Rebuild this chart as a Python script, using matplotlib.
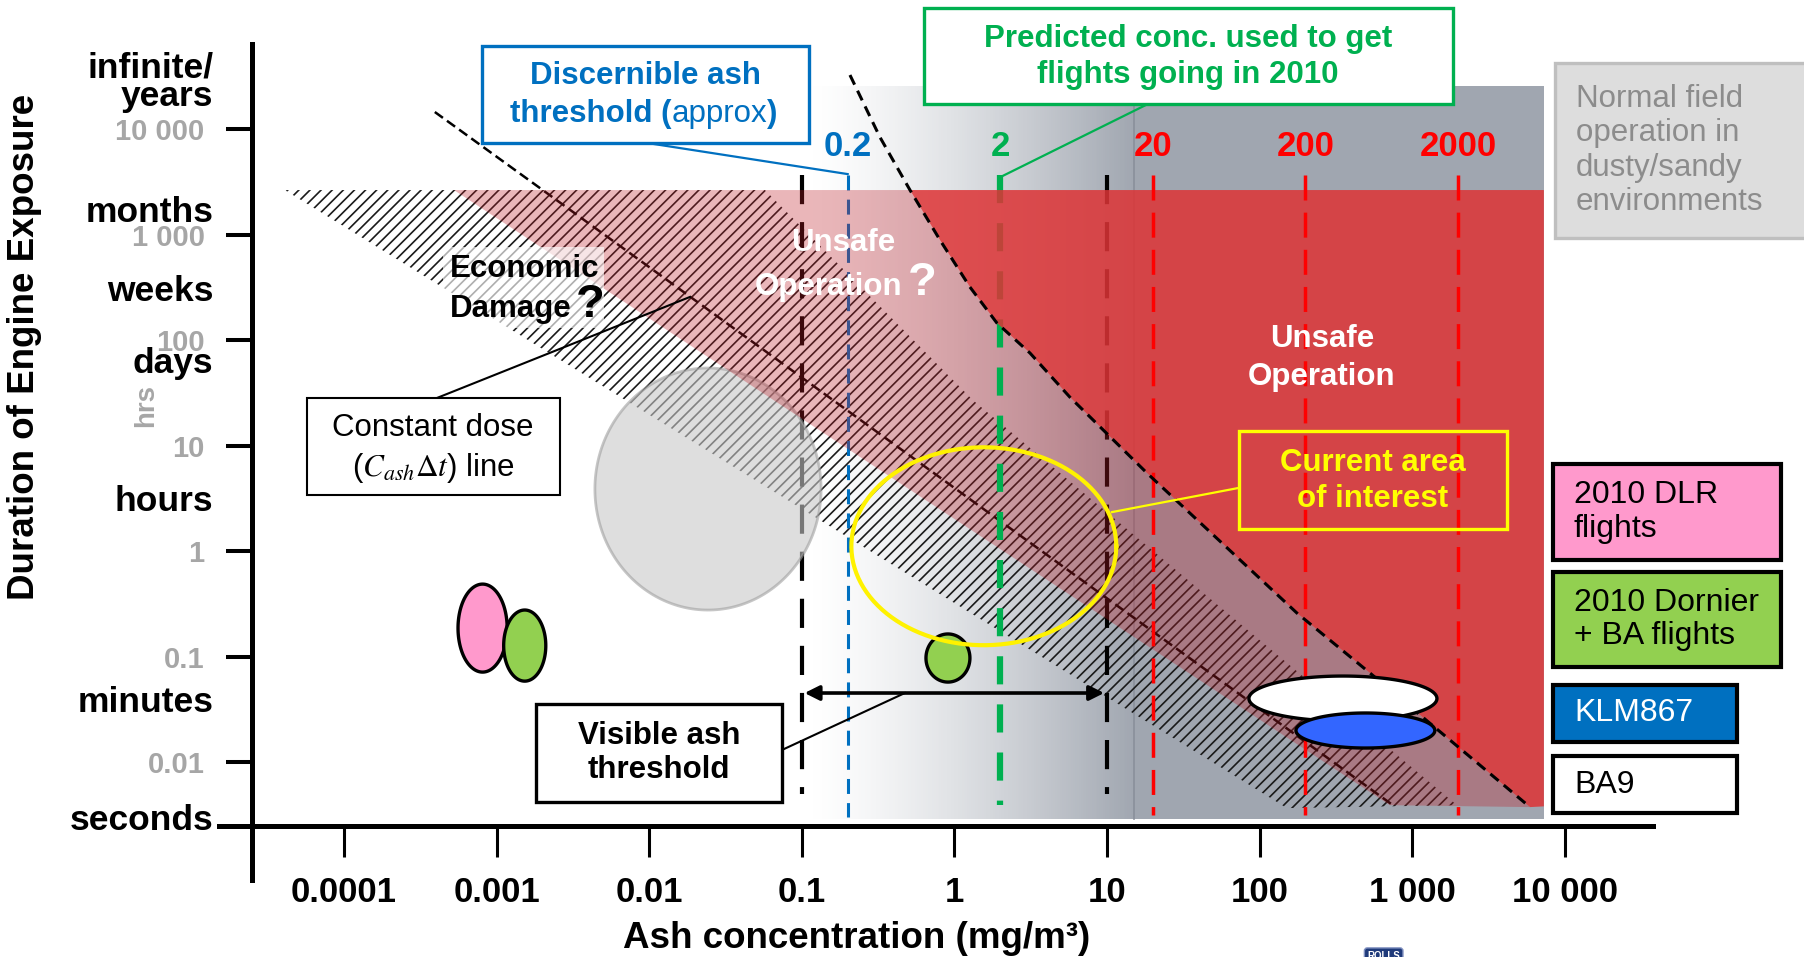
import numpy as np
import matplotlib.pyplot as plt
from matplotlib.patches import Polygon, Rectangle
from matplotlib.colors import LinearSegmentedColormap
from matplotlib.ticker import NullLocator

plt.rcParams['font.family'] = ['Liberation Sans', 'DejaVu Sans']
plt.rcParams['mathtext.fontset'] = 'stix'
plt.rcParams['hatch.linewidth'] = 1.2

# axes: ash concentration (mg/m3) vs exposure (hrs)
conc_ticks = [1e-4, 1e-3, 1e-2, 1e-1, 1, 10, 100, 1e3, 1e4]
conc_labels = ['0.0001', '0.001', '0.01', '0.1', '1', '10', '100', '1 000', '10 000']
hrs_ticks = [1e-2, 1e-1, 1, 10, 100, 1e3, 1e4]
hrs_labels = ['0.01', '0.1', '1', '10', '100', '1 000', '10 000']
time_words = ['infinite/', 'years', 'months', 'weeks', 'days', 'hours', 'minutes', 'seconds']
time_word_hrs = [31100, 16500, 1313, 234, 48.6, 2.39, 0.0298, 0.00226]

# gray background (visible ash), gradient up to 15 mg/m3
gray_conc = [0.1, 15, 7300]
gray_hrs = [0.0029, 25600]

# dashed limit curve = left edge of the red "unsafe" area
limit_conc = [0.207, 0.325, 0.512, 0.805, 1.265, 1.90, 3.13, 5.71, 18.3, 176, 529, 5920]
limit_hrs = [32500, 8400, 2640, 887, 318, 145, 75.3, 28.8, 5.48, 0.258, 0.0698, 0.00374]
red_top, red_bottom, red_right = 2640, 0.0038, 7300

# pink band lower edge
pink_low_conc = [5.26e-4, 715]
pink_low_hrs = [2640, 0.0039]

# hatched "economic damage" band
hatch_conc = [4.1e-5, 0.0574, 1.32, 1967, 151]
hatch_hrs = [2640, 2640, 27.0, 0.0039, 0.00366]

# constant dose line
dose_conc = [3.94e-4, 748]
dose_hrs = [14500, 0.0039]

# vertical threshold lines
thresh_conc = [0.1, 0.2, 2, 10, 20, 200, 2000]
thresh_bottom = [0.005, 0.003, 0.0039, 0.005, 0.00315, 0.00315, 0.00315]
thresh_top = 3660
thresh_labels = ['', '0.2', '2', '', '20', '200', '2000']

# flight data ellipses: centre (conc, hrs), half widths in decades
ell_conc = [0.0243, 8.1e-4, 1.53e-3, 0.908, 352, 494, 1.56]
ell_hrs = [3.87, 0.186, 0.127, 0.0968, 0.04, 0.0199, 1.11]
ell_wx = [0.741, 0.161, 0.138, 0.144, 0.616, 0.455, 0.868]
ell_wy = [1.147, 0.417, 0.337, 0.228, 0.213, 0.166, 0.938]

legend_labels = ['2010 DLR\nflights', '2010 Dornier\n+ BA flights', 'KLM867', 'BA9']
legend_fc = ['#FF99CC', '#92D050', '#0070C0', 'white']
legend_tc = ['black', 'black', 'white', 'black']
legend_x1 = [261000, 261000, 134000, 134000]
legend_y0 = [0.822, 0.0794, 0.0155, 0.00329]
legend_y1 = [6.68, 0.632, 0.0537, 0.0114]

fig = plt.figure(figsize=(18.04, 9.57), dpi=100)
ax = fig.add_axes([0, 0, 1, 1])
ax.set_xscale('log')
ax.set_yscale('log')
ax.set_xlim(10**-6.254, 10**5.568)
ax.set_ylim(10**-3.848, 10**5.223)

for s in ['top', 'right']:
    ax.spines[s].set_visible(False)
ax.spines['left'].set_position(('data', 10**-4.603))
ax.spines['left'].set_bounds(10**-3.119, 10**4.806)
ax.spines['bottom'].set_position(('data', 10**-2.607))
ax.spines['bottom'].set_bounds(10**-4.819, 10**4.578)
for s in ['left', 'bottom']:
    ax.spines[s].set_linewidth(3.6)

ax.set_xticks(conc_ticks)
ax.set_xticklabels(conc_labels, fontweight='bold')
ax.set_yticks(hrs_ticks)
ax.set_yticklabels(hrs_labels, fontweight='bold')
ax.xaxis.set_minor_locator(NullLocator())
ax.yaxis.set_minor_locator(NullLocator())
ax.tick_params(axis='x', direction='out', length=22, width=2.2, pad=14, labelsize=25)
ax.tick_params(axis='y', direction='out', length=19, width=2.9, pad=15, labelsize=21,
               labelcolor='#A6A6A6')

ax.set_xlabel('Ash concentration (mg/m³)', fontsize=26.5, fontweight='bold', va='center')
ax.xaxis.set_label_coords(857 / 1804, 1 - 938 / 957)
ax.set_ylabel('Duration of Engine Exposure', fontsize=26.5, fontweight='bold', va='center')
ax.yaxis.set_label_coords(25 / 1804, 1 - 347 / 957)

for w, h in zip(time_words, time_word_hrs):
    ax.text(1.39e-5, h, w, ha='right', va='baseline', fontsize=25.5, fontweight='bold')
ax.text(5.03e-6, 24.2, 'hrs', rotation=90, ha='center', va='center', fontsize=20,
        fontweight='bold', color='#A6A6A6')

# gray gradient background
gx = np.logspace(np.log10(gray_conc[0]), np.log10(gray_conc[2]), 400)
frac = np.clip(np.log10(gx / gray_conc[0]) / np.log10(gray_conc[1] / gray_conc[0]), 0, 1) ** 1.4
cmap = LinearSegmentedColormap.from_list('ash', ['#ffffff', '#a0a6b0'])
ax.pcolormesh(gx, gray_hrs, frac[:-1][None, :], cmap=cmap, vmin=0, vmax=1, zorder=1)
ax.plot([gray_conc[1]] * 2, gray_hrs, color='#8a909b', lw=1.2, zorder=1.5)

# hatched band
hatch_pts = list(zip(hatch_conc, hatch_hrs))
ax.add_patch(Polygon(hatch_pts, closed=True, facecolor='none', edgecolor='#1a1a1a',
                     lw=0, hatch='///', zorder=3))

# constant dose line
ax.plot(dose_conc, dose_hrs, color='black', lw=1.8, dashes=(4, 2), zorder=3.6)

# threshold lines
styles = [
    dict(color='black', lw=3, dashes=(7, 4.3), zorder=3.5),
    dict(color='#0070C0', lw=2.2, dashes=(4.9, 3), zorder=3.5),
    dict(color='#00B050', lw=4.5, dashes=(4.5, 3.2), zorder=4.5),
    dict(color='black', lw=3, dashes=(7, 4.3), zorder=3.5),
    dict(color='#FF0000', lw=2.5, dashes=(7.2, 3.5), zorder=6),
    dict(color='#FF0000', lw=2.5, dashes=(7.2, 3.5), zorder=6),
    dict(color='#FF0000', lw=2.5, dashes=(7.2, 3.5), zorder=6),
]
for c, b, lab, st in zip(thresh_conc, thresh_bottom, thresh_labels, styles):
    ax.plot([c, c], [thresh_top, b], **st)
    if lab:
        ax.text(c, 6900, lab, ha='center', va='center', fontsize=25, fontweight='bold',
                color=st['color'])

# gray circle (dusty/sandy field operation)
def ellipse(i, n=240):
    t = np.linspace(0, 2 * np.pi, n)
    ex = 10 ** (np.log10(ell_conc[i]) + ell_wx[i] * np.cos(t))
    ey = 10 ** (np.log10(ell_hrs[i]) + ell_wy[i] * np.sin(t))
    return np.column_stack([ex, ey])

ax.add_patch(Polygon(ellipse(0), closed=True, facecolor='#C8C8C8', edgecolor='#A0A0A0',
                     lw=2, alpha=0.6, zorder=3.8))

# pink band and red unsafe region
curve = list(zip(limit_conc, limit_hrs))
pink_pts = [(pink_low_conc[0], pink_low_hrs[0])] + curve[2:] + [(pink_low_conc[1], pink_low_hrs[1])]
ax.add_patch(Polygon(pink_pts, closed=True, facecolor=(190/255, 30/255, 40/255), alpha=0.32,
                     lw=0, zorder=4))
red_pts = curve[2:] + [(red_right, red_bottom), (red_right, red_top)]
ax.add_patch(Polygon(red_pts, closed=True, facecolor=(221/255, 52/255, 54/255), alpha=0.86,
                     lw=0, zorder=5))
ax.plot(limit_conc, limit_hrs, color='black', lw=2.2, dashes=(3.5, 2.2), zorder=6)

# small flight ellipses
ell_style = [('#FF99CC', 1), ('#92D050', 2), ('#92D050', 3), ('white', 4), ('#3366FF', 5)]
for fc, i in ell_style:
    ax.add_patch(Polygon(ellipse(i), closed=True, facecolor=fc, edgecolor='black',
                         lw=2.4, zorder=7))
yc = ellipse(6)
ax.plot(yc[:, 0], yc[:, 1], color='#FFF200', lw=3, zorder=7.5)

# visible ash double arrow
ax.annotate('', xy=(10, 0.0451), xytext=(0.1, 0.0451),
            arrowprops=dict(arrowstyle='<|-|>', color='black', lw=2.6,
                            mutation_scale=22), zorder=7)


def box(x0, x1, y0, y1, fc, ec, lw, z=8, alpha=1.0):
    ax.add_patch(Rectangle((x0, y0), x1 - x0, y1 - y0, facecolor=fc, edgecolor=ec,
                           lw=lw, alpha=alpha, zorder=z))


tk = dict(ha='center', va='center', fontsize=22.5, zorder=9)

# Discernible ash threshold
box(8.02e-4, 0.1114, 7360, 61200, 'white', '#0070C0', 2.4)
ax.plot([0.0098, 0.2], [7360, 3740], color='#0070C0', lw=1.6, zorder=7.9)
ax.text(0.0094, 31800, 'Discernible ash', color='#0070C0', fontweight='bold', **tk)
t1 = ax.text(1.22e-3, 13900, 'threshold (', color='#0070C0', fontweight='bold',
             ha='left', va='center', fontsize=22.5, zorder=9)
t2 = ax.annotate('approx', xy=(1, 0), xycoords=t1, ha='left', va='bottom',
                 color='#0070C0', fontsize=22.5, zorder=9)
ax.annotate(')', xy=(1, 0), xycoords=t2, ha='left', va='bottom', color='#0070C0',
            fontsize=22.5, fontweight='bold', zorder=9)

# Predicted conc. box
box(0.632, 1850, 17300, 140000, 'white', '#00B050', 2.4)
ax.plot([18.6, 2.0], [17300, 3500], color='#00B050', lw=1.6, zorder=7.9)
ax.text(34, 48000, 'Predicted conc. used to get\nflights going in 2010', color='#00B050',
        fontweight='bold', linespacing=1.25, **tk)

# Economic damage
box(4.46e-4, 5.06e-3, 130, 762, 'white', 'none', 0, z=4.2, alpha=0.65)
ax.text(4.96e-4, 471, 'Economic', ha='left', va='center', fontsize=22.5,
        fontweight='bold', zorder=9)
t3 = ax.text(4.96e-4, 197, 'Damage', ha='left', va='center', fontsize=22.5,
             fontweight='bold', zorder=9)
ax.annotate('?', xy=(1, 0), xycoords=t3, xytext=(3, -2), textcoords='offset points',
            ha='left', va='bottom', fontsize=34, fontweight='bold', zorder=9)

# Unsafe operation ?
ax.text(0.186, 830, 'Unsafe', color='white', fontweight='bold', **tk)
t4 = ax.text(0.149, 318, 'Operation', color='white', fontweight='bold', **tk)
ax.annotate('?', xy=(1, 0), xycoords=t4, xytext=(4, -2), textcoords='offset points',
            ha='left', va='bottom', fontsize=34, fontweight='bold', color='white', zorder=9)

ax.text(256, 102, 'Unsafe', color='white', fontweight='bold', **tk)
ax.text(256, 44.6, 'Operation', color='white', fontweight='bold', **tk)

# Constant dose line box
box(5.73e-5, 2.6e-3, 3.40, 28.2, 'white', 'black', 1.5)
ax.plot([4.06e-4, 0.0185], [28.2, 256], color='black', lw=1.5, zorder=7.9)
ax.text(3.83e-4, 14.7, 'Constant dose', **tk)
ax.text(3.83e-4, 6.1, r'($C_{ash}\Delta t$) line', **tk)

# Visible ash threshold box
box(1.81e-3, 0.0741, 0.00418, 0.0355, 'white', 'black', 2.4)
ax.plot([0.0741, 0.474], [0.013, 0.0451], color='black', lw=1.5, zorder=7.9)
ax.text(0.0116, 0.0122, 'Visible ash\nthreshold', fontweight='bold', linespacing=1.2, **tk)

# Current area of interest
box(73.3, 4180, 1.62, 13.7, 'none', '#FFFF00', 2.4)
ax.plot([72.1, 10.8], [3.95, 2.34], color='#FFFF00', lw=1.6, zorder=7.9)
ax.text(553, 4.6, 'Current area\nof interest', color='#FFFF00', fontweight='bold',
        linespacing=1.25, **tk)

# right-hand key
box(8630, 1e7, 927, 42300, '#DDDDDD', '#BFBFBF', 2.4)
ax.text(11800, 6250, 'Normal field\noperation in\ndusty/sandy\nenvironments', ha='left',
        va='center', fontsize=22.5, color='#8C8C8C', linespacing=1.2, zorder=9)
for lab, fc, tc, x1, y0, y1 in zip(legend_labels, legend_fc, legend_tc, legend_x1,
                                   legend_y0, legend_y1):
    box(8380, x1, y0, y1, fc, 'black', 3)
    ax.text(11500, np.sqrt(y0 * y1), lab, ha='left', va='center', fontsize=23,
            color=tc, linespacing=1.15, zorder=9)

fig.text(0.767, -0.004, 'ROLLS', ha='center', va='bottom', fontsize=7, color='white',
         fontweight='bold',
         bbox=dict(boxstyle='round,pad=0.3', fc='#1F3A7A', ec='#8090c0', lw=1))

fig.savefig('out.png', dpi=100, facecolor='white')
